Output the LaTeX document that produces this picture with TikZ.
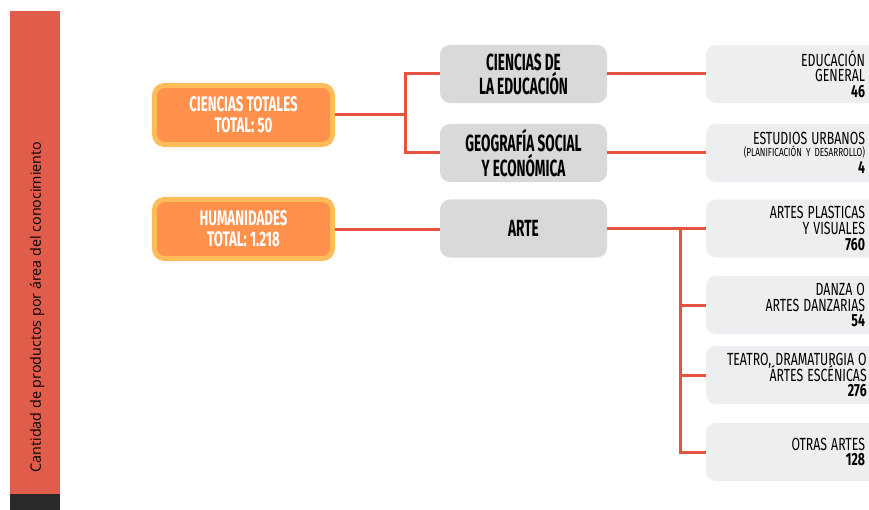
\documentclass[tikz,border=0pt]{standalone}
\usepackage{fontspec}
\usepackage{graphicx}
\setmainfont{Fira Sans}
\newfontfamily\sidefont{Open Sans}
\usepackage{tikz}

\definecolor{barred}{HTML}{E05C4B}
\definecolor{bardark}{HTML}{2A2A2A}
\definecolor{orangefill}{HTML}{FF914D}
\definecolor{orangeline}{HTML}{FFBD59}
\definecolor{areagrey}{HTML}{D9D9D9}
\definecolor{leafgrey}{HTML}{ECEEEF}
\definecolor{linkred}{HTML}{E5533F}

% narrow letters, lines set on a fixed baselineskip
\newcommand\condtext[3][\hfil]{\scalebox{#2}[1]{\vbox{\lineskiplimit=-\maxdimen\let\\\cr
	\halign{\hfil##\unskip#1\cr#3\crcr}}}}

\begin{document}
\begin{tikzpicture}[x=0.03cm,y=-0.03cm]
	\useasboundingbox (0,0) rectangle (869,510);
	\fill[barred] (10,11) rectangle (60,494);
	\fill[bardark] (10,494) rectangle (60,510);
	\node[rotate=90,font=\sidefont\fontsize{12.2}{14}\selectfont] (side) at (37,307) {Cantidad de productos por área del conocimiento};

	\begin{scope}[every node/.style={rounded corners=0.3cm,inner sep=0pt},
	              totalbox/.style={draw=orangeline,line width=0.15cm,fill=orangefill,
	                  minimum width=5.34cm,minimum height=1.77cm,text=white,
	                  font=\bfseries\fontsize{18}{18}\selectfont},
	              areabox/.style={fill=areagrey,minimum width=5.01cm,minimum height=1.74cm,
	                  font=\bfseries\fontsize{20}{20.5}\selectfont},
	              leafbox/.style={fill=leafgrey,minimum height=1.74cm,inner xsep=0.63cm,
	                  text width=4.14cm,align=right,font=\fontsize{15}{13.3}\selectfont}]
	    \node[totalbox] (ct) at (243.5,115) {\condtext{0.63}{CIENCIAS TOTALES\\TOTAL: 50}};
	    \node[totalbox] (hum) at (243.5,229) {\condtext{0.63}{HUMANIDADES\\TOTAL: 1.218}};

	    \node[areabox] (edu) at (523.5,74) {\condtext{0.58}{CIENCIAS DE\\LA EDUCACIÓN}};
	    \node[areabox] (geo) at (523.5,153) {\condtext{0.58}{GEOGRAFÍA SOCIAL\\Y ECONÓMICA}};
	    \node[areabox] (arte) at (523.5,228.5) {\condtext{0.58}{ARTE}};

	    \node[leafbox] (gen) at (796,74) {\condtext[]{0.7}{EDUCACIÓN\\GENERAL\\\textbf{46}}};
	    \node[leafbox] (urb) at (796,153) {\condtext[]{0.7}{ESTUDIOS URBANOS\\\noalign{\vskip-3pt}
	        {\fontsize{10}{10}\selectfont(PLANIFICACIÓN Y DESARROLLO)}\\\noalign{\vskip1pt}\textbf{4}}};
	    \node[leafbox] (vis) at (796,228.5) {\condtext[]{0.7}{ARTES PLASTICAS\\Y VISUALES\\\textbf{760}}};
	    \node[leafbox] (dan) at (796,305) {\condtext[]{0.7}{DANZA O\\ARTES DANZARIAS\\\textbf{54}}};
	    \node[leafbox] (tea) at (796,375) {\condtext[]{0.7}{TEATRO, DRAMATURGIA O\\ÁRTES ESCÉNICAS\\\textbf{276}}};
	    \node[leafbox] (otr) at (796,452) {\condtext[]{0.7}{OTRAS ARTES\\\textbf{128}}};
	\end{scope}

	\coordinate (j1) at (405,115);
	\coordinate (j2) at (680,228.5);
	\begin{scope}[every path/.style={draw=linkred,line width=0.09cm}]
	    \path (ct.east) -- (j1);
	    \path (edu.west) -| (j1) |- (geo.west);
	    \path (hum.east) -- (hum.east -| arte.west);
	    \path (edu.east) -- (gen.west);
	    \path (geo.east) -- (urb.west);
	    \path (arte.east) -- (vis.west);
	    \path (j2) |- (otr.west);
	    \path (j2 |- dan.west) -- (dan.west);
	    \path (j2 |- tea.west) -- (tea.west);
	\end{scope}
\end{tikzpicture}
\end{document}
